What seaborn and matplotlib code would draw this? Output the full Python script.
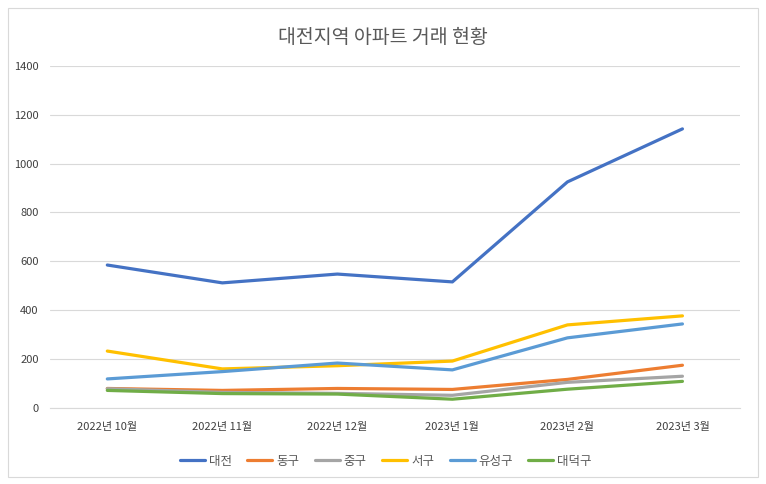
import pandas as pd
import numpy as np
import seaborn as sns
import matplotlib.pyplot as plt
from matplotlib.patches import Rectangle

# --- 데이터 ---
months = ['2022년 10월', '2022년 11월', '2022년 12월', '2023년 1월', '2023년 2월', '2023년 3월']
daejeon = [585, 512, 548, 516, 925, 1142]
donggu = [80, 72, 80, 76, 117, 175]
junggu = [79, 64, 60, 52, 105, 130]
seogu = [233, 160, 173, 192, 340, 377]
yuseong = [119, 149, 184, 156, 287, 344]
daedeok = [72, 59, 57, 36, 77, 109]

regions = ['대전', '동구', '중구', '서구', '유성구', '대덕구']
series = [daejeon, donggu, junggu, seogu, yuseong, daedeok]
colors = ['#4472C4', '#ED7D31', '#A5A5A5', '#FFC000', '#5B9BD5', '#70AD47']

df = pd.DataFrame({
    'month': months * len(regions),
    'region': np.repeat(regions, len(months)),
    'count': np.concatenate(series),
})

sns.set_style('white')
plt.rcParams['font.family'] = ['Noto Sans CJK KR', 'DejaVu Sans']

fig = plt.figure(figsize=(7.66, 4.84), dpi=100)
ax = fig.add_axes([0.065, 0.157, 0.901, 0.707])

sns.lineplot(data=df, x='month', y='count', hue='region', hue_order=regions,
             palette=colors, linewidth=2.3, sort=False, ax=ax)

ax.set_xlim(-0.5, 5.5)
ax.set_ylim(0, 1400)
ax.set_yticks(range(0, 1401, 200))
ax.grid(axis='y', color='#D9D9D9', linewidth=0.8)
ax.set_axisbelow(True)
for s in ['top', 'right', 'left']:
    ax.spines[s].set_visible(False)
ax.spines['bottom'].set_color('#D9D9D9')
ax.tick_params(axis='both', length=0, labelsize=8, labelcolor='#404040')
ax.tick_params(axis='x', pad=10)
ax.tick_params(axis='y', pad=8)
ax.set_xlabel('')
ax.set_ylabel('')

fig.suptitle('대전지역 아파트 거래 현황', y=0.945, fontsize=14, color='#595959')

ax.legend(loc='center', bbox_to_anchor=(0.487, -0.155), ncol=6, frameon=False,
          fontsize=9, handlelength=2.0, columnspacing=1.25, handletextpad=0.3,
          labelcolor='#595959')

fig.patches.append(Rectangle((0.01, 0.015), 0.98, 0.968, transform=fig.transFigure,
                             fill=False, edgecolor='#D9D9D9', linewidth=0.8))

plt.savefig('out.png', dpi=100)
